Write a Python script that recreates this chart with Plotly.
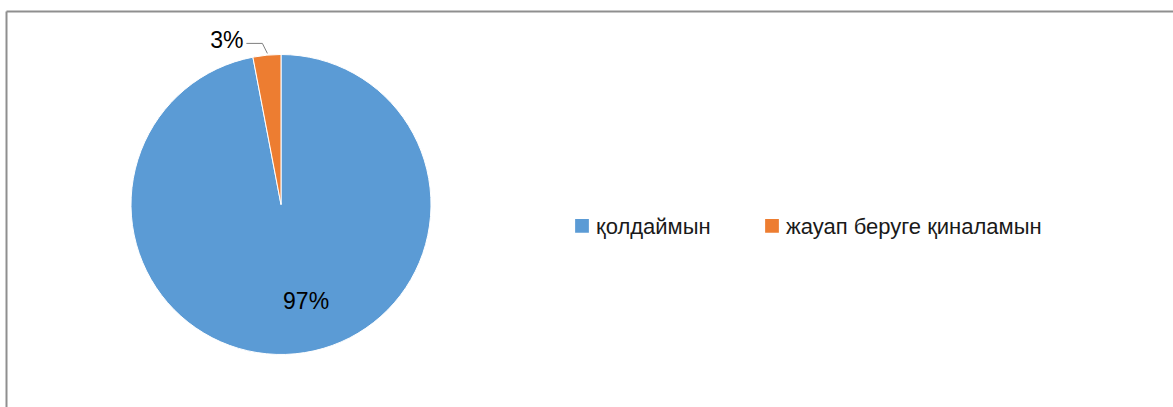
import plotly.graph_objects as go

categories = ["қолдаймын", "жауап беруге қиналамын"]
values = [97, 3]
colors = ["#5B9BD5", "#ED7D31"]

W, H = 1173, 407

fig = go.Figure(go.Pie(
    labels=categories,
    values=values,
    sort=False,
    direction="clockwise",
    rotation=0,
    marker=dict(colors=colors, line=dict(color="white", width=1)),
    texttemplate="%{percent:.0%}",
    textposition=["inside", "outside"],
    insidetextorientation="horizontal",
    textfont=dict(family="Liberation Sans", size=23, color="#000000"),
    hoverinfo="label+percent",
    domain=dict(x=[131 / W, 431 / W], y=[1 - 355 / H, 1 - 54 / H]),
    showlegend=True,
))

fig.update_layout(
    width=W, height=H,
    margin=dict(l=0, r=0, t=0, b=0),
    paper_bgcolor="white",
    plot_bgcolor="white",
    font=dict(family="Liberation Sans", color="#1a1a1a"),
    legend=dict(
        orientation="h",
        x=556 / W, xanchor="left",
        y=1 - 226 / H, yanchor="middle",
        font=dict(family="Liberation Sans", size=22, color="#1a1a1a"),
        itemwidth=30,
        entrywidth=145,
        entrywidthmode="pixels",
        traceorder="normal",
    ),
    shapes=[
        dict(type="line", xref="paper", yref="paper",
             x0=6.5 / W, x1=6.5 / W, y0=0, y1=1 - 11.5 / H,
             line=dict(color="#8f8f8f", width=2)),
        dict(type="line", xref="paper", yref="paper",
             x0=6.5 / W, x1=1, y0=1 - 11.5 / H, y1=1 - 11.5 / H,
             line=dict(color="#8f8f8f", width=2)),
    ],
)

post = """
document.body.style.margin='0';
document.body.style.overflow='hidden';
document.querySelectorAll('.legend [clip-path]').forEach(function(e){e.removeAttribute('clip-path');});
document.querySelectorAll('.legend .legendpoints path').forEach(function(e){
  e.setAttribute('transform','translate(26,0) scale(1.25)');
});
var txts = document.querySelectorAll('.pielayer .slice text.slicetext');
var shifts = [[18,22],[-17,-2]];
txts.forEach(function(t,i){
  if(i < shifts.length){
    var tr = t.getAttribute('transform') || '';
    t.setAttribute('transform','translate('+shifts[i][0]+','+shifts[i][1]+') '+tr);
  }
});
if (txts.length > 1) {
  var r = txts[1].getBoundingClientRect();
  var svg = document.querySelector('.main-svg');
  var sr = svg.getBoundingClientRect();
  var x0 = r.right - sr.left + 3, y0 = r.top - sr.top + r.height * 0.62;
  var x1 = x0 + 16, x2 = x1 + 5, y2 = y0 + 10;
  var p = document.createElementNS('http://www.w3.org/2000/svg', 'path');
  p.setAttribute('d', 'M' + x0 + ',' + y0 + 'L' + x1 + ',' + y0 + 'L' + x2 + ',' + y2);
  p.setAttribute('stroke', '#7f7f7f');
  p.setAttribute('stroke-width', '1');
  p.setAttribute('fill', 'none');
  svg.appendChild(p);
}
"""

fig.write_html("out.html", config={"displayModeBar": False}, post_script=post)
